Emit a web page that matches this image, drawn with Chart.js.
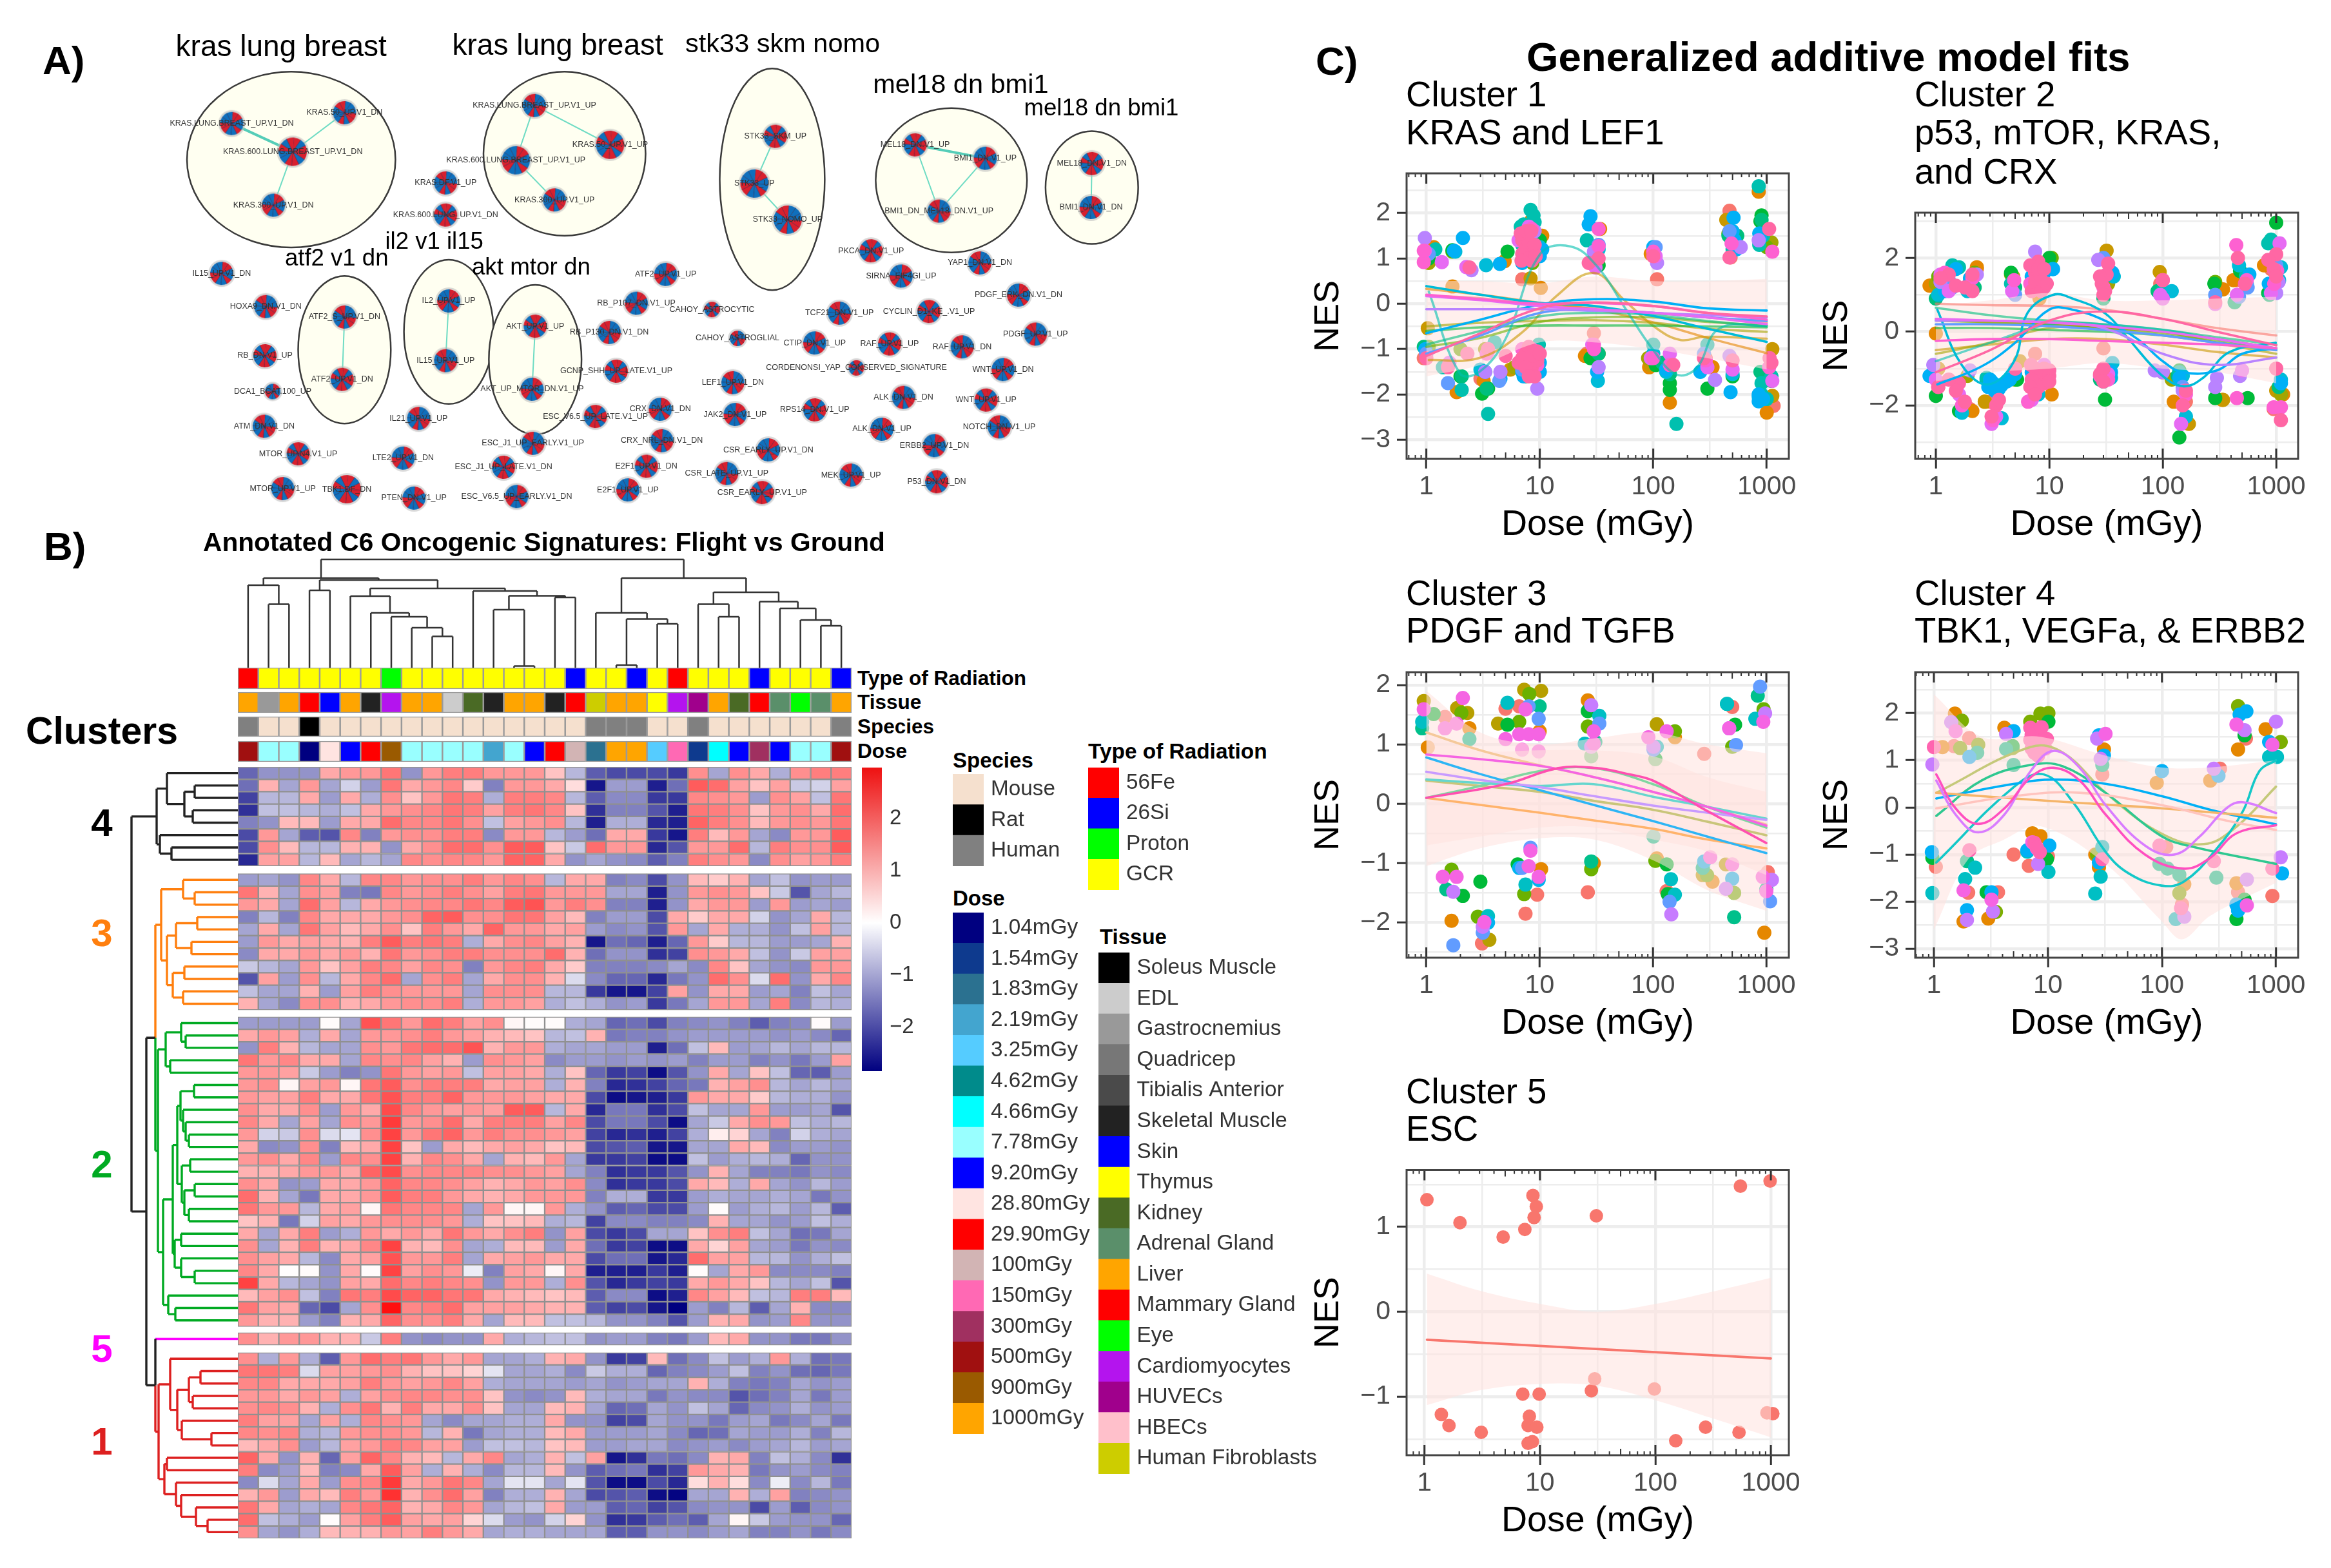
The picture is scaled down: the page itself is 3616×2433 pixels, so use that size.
<!DOCTYPE html>
<html><head><meta charset="utf-8">
<script src="https://cdn.jsdelivr.net/npm/chart.js@4"></script>
<style>
html,body{margin:0;padding:0;background:#fff;width:3616px;height:2433px;overflow:hidden;font-family:"Liberation Sans",Arial,sans-serif}
canvas{position:absolute}
.t{position:absolute;white-space:nowrap;transform:translateY(-50%);line-height:1}
</style></head><body>
<script>
/* ---------- Panel A: network ---------- */
const networkNodes=[
["KRAS.LUNG.BREAST_UP.V1_DN",291,355],["KRAS.50_UP.V1_DN",437,322],["KRAS.600.LUNG.BREAST_UP.V1_DN",370,441],["KRAS.300_UP.V1_DN",345,604],
["KRAS.LUNG.BREAST_UP.V1_UP",683,300],["KRAS.50_UP.V1_UP",781,420],["KRAS.600.LUNG.BREAST_UP.V1_UP",659,467],["KRAS.300_UP.V1_UP",709,588],
["STK33_SKM_UP",995,394],["STK33_UP",968,538],["STK33_NOMO_UP",1011,648],
["MEL18_DN.V1_UP",1176,420],["BMI1_DN.V1_UP",1267,461],["BMI1_DN_MEL18_DN.V1_UP",1207,622],["MEL18_DN.V1_DN",1405,477],["BMI1_DN.V1_DN",1404,611],
["ATF2_S_UP.V1_DN",437,945],["ATF2_UP.V1_DN",434,1135],["IL2_UP.V1_UP",572,896],["IL15_UP.V1_UP",568,1078],["AKT_UP.V1_UP",684,973],["AKT_UP_MTOR_DN.V1_UP",680,1165],
["KRAS.DF.V1_UP",568,536],["KRAS.600.LUNG_UP.V1_DN",568,634],["IL15_UP.V1_DN",278,812],["HOXA9_DN.V1_DN",335,913],["RB_DN.V1_UP",334,1063],["DCA1_BCAT.100_UP",344,1172],
["ATM_DN.V1_DN",333,1278],["MTOR_UP.N4.V1_UP",377,1362],["LTE2_UP.V1_DN",513,1375],["MTOR_UP.V1_UP",357,1468],["TBK1.DF_DN",440,1470],["PTEN_DN.V1_UP",527,1497],
["IL21_UP.V1_UP",533,1254],["ESC_J1_UP_LATE.V1_DN",643,1403],["ESC_V6.5_UP_EARLY.V1_DN",660,1492],["ESC_J1_UP_EARLY.V1_UP",681,1330],["ESC_V6.5_UP_LATE.V1_UP",762,1248],
["CRX_DN.V1_DN",846,1226],["CRX_NRL_DN.V1_DN",848,1322],["E2F1_UP.V1_DN",828,1400],["E2F1_UP.V1_UP",804,1472],["CSR_LATE_UP.V1_UP",932,1422],["CSR_EARLY_UP.V1_UP",978,1480],["CSR_EARLY_UP.V1_DN",986,1350],
["MEK_UP.V1_UP",1093,1427],["P53_DN.V1_DN",1204,1447],["ERBB2_UP.V1_DN",1201,1337],["NOTCH_DN.V1_UP",1285,1280],["WNT_UP.V1_UP",1268,1198],["ALK_DN.V1_UP",1133,1287],["ALK_DN.V1_DN",1161,1190],
["RPS14_DN.V1_UP",1046,1228],["JAK2_DN.V1_UP",943,1242],["LEF1_UP.V1_DN",940,1145],["CORDENONSI_YAP_CONSERVED_SIGNATURE",1100,1100],["WNT_UP.V1_DN",1290,1105],["RAF_UP.V1_DN",1237,1036],["RAF_UP.V1_UP",1143,1027],
["CTIP_DN.V1_UP",1046,1024],["CAHOY_ASTROGLIAL",946,1010],["CAHOY_ASTROCYTIC",913,922],["RB_P107_DN.V1_UP",815,903],["RB_P130_DN.V1_DN",780,992],["GCNP_SHH_UP_LATE.V1_UP",789,1110],["ATF2_UP.V1_UP",853,815],
["TCF21_DN.V1_UP",1078,933],["CYCLIN_D1_KE_.V1_UP",1194,928],["PDGF_ERK_DN.V1_DN",1310,878],["PDGF_UP.V1_UP",1332,997],["PKCA_DN.V1_UP",1119,743],["SIRNA_EIF4GI_UP",1158,820],["YAP1_DN.V1_DN",1260,780]
];
const thinEdges=[[1,2],[2,3],[4,6],[4,5],[6,7],[8,9],[9,10],[11,13],[12,13],[14,15],[16,17],[18,19],[20,21]];
const thickEdges=[[0,2],[11,12]];
const smallNodes=[27,56,61,62];
const largeNodes=[2,5,6,9,10,32];
const hullCenters=[[368,465],[722,447],[991,525],[1223,528],[1405,550],[437,1045],[572,990],[684,1075]];
const hullRadii=[[135,268],[105,250],[68,338],[98,220],[60,172],[60,225],[58,220],[60,228]];
const hullTitles=["kras lung breast","kras lung breast","stk33 skm nomo","mel18 dn bmi1","mel18 dn bmi1","atf2 v1 dn","il2 v1 il15","akt mtor dn"];
const hullTitleX=[360,714,1002,1230,1410,431,556,680];
const hullTitleY=[135,132,128,248,320,765,716,792];
const hullTitleSize=[46,46,41.5,41.5,36.6,36.6,36.6,36.8];

/* ---------- Panel B: heatmap ---------- */
const clusterSizes=[8,11,25,1,15];
const clusterGaps=[.62,.56,.5,.6,0];
const clusterColors=['#222222','#FF7F0E','#00AA22','#FF00FF','#DD2020'];
const heatC4=[
[-1.7,-1.2,-1.2,-1.2,1,1.2,1.2,1.6,-1.2,1.2,1.5,1.5,1.2,1.2,1.2,.7,-.8,-1.8,-2,-2,-2,-2.2,1.3,-1,1.3,1,-.9,1.3,1.5,1.5],
[-1.6,.9,-1,1.2,-1,-.5,-1.1,1.6,1,1.2,1.4,.6,-1.4,1.2,1.2,1,.4,-2.6,-1.1,-1.1,-2.5,-1.6,1.9,1.7,1.1,.7,1.1,-.6,-.5,1.1],
[-2.1,-.8,-.8,1,-1.1,1,-.9,1.3,.7,1.2,1.6,1.5,-.9,1.5,1.5,1.4,-.8,-1.8,-1.3,-1.3,-2.2,-2.2,1.4,1.3,1.2,-1.1,1.3,1.1,-.7,1.6],
[-2.3,-.7,-.7,-.8,-.9,-.7,1,1.2,1.3,1.4,1.6,1.5,1.1,1.5,1.6,1.4,.7,-2.3,-1.4,-1.4,-1.9,-2.5,1.6,1.5,1.3,.7,1.2,1.3,1,1.7],
[-1.4,-1.2,.8,.8,-1.1,1,1,1.7,1.4,1.4,1.6,1.3,-.7,1.1,1.2,1.3,-.8,-2.5,-.9,-.9,-2.4,-2.5,1.8,1.5,1.3,.8,1.2,1.3,1.2,1.6],
[-2,1.2,-1,-1.8,-1.9,1.4,-1.4,1.2,1.3,1.3,1.5,1.5,-1.3,1.2,1.2,-.8,-1.1,-1.6,1,1,-2.2,-2.6,1.5,.8,1.2,-1,-1.3,1.2,1.2,1.9],
[-2,1.3,.8,-.8,-.8,.9,.9,-1.2,1,1.3,1.7,1.7,1.3,1.9,1.9,.7,-.6,1.7,1.2,1.2,-2.4,-1.9,1.2,1.2,1.7,-.8,1.5,1.3,1.3,1.9],
[-2.4,1.1,1.1,-.8,.8,-1,-.8,-1,1.4,1.3,1.4,1.4,1.2,1.8,1.8,1,-1.2,-1,-1.2,-1.3,-1.8,-1.4,1.5,1.3,1.2,-1.3,1.3,1.1,1.2,1.5]];
const heatC3=[
[-1.1,-1,-1.2,1.4,1,-.8,1.4,1.4,1.2,1.3,1.3,1.5,1.2,1.4,1.3,-.8,1,1,-1.4,-1.3,-2,-1.2,.8,.6,.9,-1,-.7,-1.2,-1.1,-1.1],
[1.6,.9,-1,1.3,1.1,-1.4,-1.5,1.4,1.2,1.3,1.5,1.3,1.1,1.5,1.6,1.2,1.2,1.2,-1,-1,-2.5,-1.2,1.2,1.3,1.2,.7,-.6,-1.9,-1,-.8],
[1.2,1,-1,1.7,1.1,-.8,1,1.2,1.3,1.4,1.4,1.6,1.4,1.9,2,1.2,1.5,1.3,-1.4,-1.4,-2.5,-1.2,1,1.2,1.2,-1.1,1.2,-1.1,-1,-1.1],
[-1.4,-.8,-1.4,1.4,1,1,1,1.2,1.3,1.8,1.9,1.3,1.3,1.6,1.6,1.1,.8,-1.4,-1.1,-1.1,-2,1,.6,1,1,-.5,-1.2,-1,1,-.8],
[-1,1,-1,1.6,1.1,.8,1,1.3,.7,1.5,1.2,1,1.8,1.2,1.2,1,1.1,-1.1,-1.3,-1.2,-1.9,1.2,-1,1,-.9,-.9,-1.2,-.7,1.1,-.8],
[-1.1,1.2,1,1.1,1,.9,1.5,1.9,1.5,1.6,1.5,-.9,1,1.3,1.4,1.1,.9,-2.6,-1.6,-1.7,-2.5,-1.7,1.2,.6,-.8,-.8,-1.1,-1.1,-1,.9],
[-1.3,1,1,1.2,1,1.2,.9,1.6,1.2,1.3,1.5,1.5,1.3,1.3,1.3,1.7,.9,-1.6,-1.2,-1.2,-2.3,-2.1,1.3,1.2,1,-.7,-1.2,-.6,1.1,1.1],
[-.6,-.8,-1,1.2,.7,1.1,1.5,1.4,1.1,1.4,1.3,-1.4,1.2,1.4,1.5,1,.6,-1.4,-1.4,-1.4,-1.3,-1,-1.3,1.4,.7,-1,-1.2,-1.3,1.2,1.2],
[-1.9,1.1,-1.1,1.3,-.8,1,1.4,1.7,-1,1.3,1.5,-1,1,1.3,1.3,.9,-.4,-1.3,-1.7,-1.7,-2.4,-1.5,-1.2,1.7,1.3,-.4,1.7,-1.2,1,1.4],
[-.7,-1,-1,.9,-1.1,1.1,1.5,1.3,1.2,1.2,1.2,-1,1.3,1.3,1.3,-.8,-.8,-2.2,-2.6,-2.6,-2.1,1.1,-1.2,1,1,-1.1,-1,-1.4,-.7,-1],
[.9,-1,-1.3,1.3,1.3,.9,1,1.2,1.3,1.3,1.5,-.9,1.2,1.2,1.1,-.9,-.7,-.9,-1.2,-1.1,-2.2,-1.5,-1,1.2,1.2,-1,1.5,-1.3,-.8,-.9]];
const heatC2=[
[-1.1,-1.1,-1.1,-1.1,.05,-1,2,1.6,1.2,1.7,1.5,1.1,1.3,.1,.05,.05,-.9,-1,-1.7,-1.6,-2,-1.4,-1.3,-1.2,-1.4,-1.8,-1.4,-1.3,.05,-1.1],
[1,1.2,1.1,-.9,1,-1,1.2,1.2,1.3,1.5,1.2,1.1,.9,.8,.7,-.8,-.7,.9,-1.5,-1.4,-1.4,-1.2,-1.1,-1.1,-1.1,-1.1,-1.2,-1.1,-1.3,-1.7],
[-1.2,1.5,.9,-.8,-1,-1,1.3,1.2,1.6,1.7,1.7,2,.9,1.2,1.2,-.9,-1,-1,-1.1,-1.1,-2.5,-1.6,-.7,.8,-1.1,-1,-.8,-1,-.8,-.8],
[1.6,1.2,1.4,1,1,-1,1.4,1.3,1.4,1.1,.9,-1.1,1.3,1.2,1.1,-1.3,-1.1,-1.1,-1.2,-1.1,-1.2,-1.1,-1.4,-1.1,-1.1,-1.4,-1.2,-1.5,-1.1,1.1],
[1.2,1.2,1.1,-.6,-1.1,-1.4,-1.2,1.6,1.2,1.1,1.2,-.7,1.1,1.1,1,-.9,.7,-1.7,-2.2,-2.1,-2.7,-1.9,-1.2,1,-1,.7,-.7,-1.7,-1.8,-1.1],
[1.2,1.3,.1,1.1,1.2,.1,1.6,1.9,1.3,1.5,1.5,1.5,1,1.1,1.1,-.9,.9,-1.4,-2.4,-2.3,-2.1,-1.7,-1.5,.9,1.1,1.3,-.8,-1,-.8,-1],
[1.2,1.1,1.1,1.5,1,1,1.6,2,1.5,1.5,1.8,1.2,1.2,1.2,1.1,1,1,-2,-2.7,-2.6,-2.5,-2.2,1.2,1,1,.6,-.8,-.9,-.9,-1.2],
[1.3,1,1,1.3,-1.1,1.2,1,2.1,1.4,1.2,1.1,1.2,1.1,1.9,1.9,-.8,1,-2.4,-1.5,-1.5,-2.3,-2,-.7,-1,-1,1.2,-1.1,-1.1,-1,-1.9],
[1.4,1,-1,1.1,-1,1.3,1.2,2.3,1.2,1.3,1.7,1,1.5,1.5,1.5,1.1,1.4,-2,-1.5,-1.5,-2,-2.7,-1,-.6,1,1.3,1.2,-.7,-.9,-.8],
[1.2,-.5,-.6,1.3,-.4,-.3,1.3,2.2,1.2,1.6,1.8,1.2,1.5,1.3,1.3,1.2,1.1,-2.1,-2.4,-2.3,-2.5,-2.1,-.9,.2,.5,-1,-1.4,-.5,-.9,-1],
[1,-1.3,-1.2,1.3,-1.4,.8,1,2.2,.7,-1.1,1,.8,1,1.1,1,.7,.8,-2,-1.9,-1.8,-2.6,-2.6,-1,-1,1,.8,-1.3,-1.1,-1.1,-1.2],
[1.2,1.3,1,1.4,-1.1,1.4,1.3,2.2,.9,1.4,1.3,1,-1,.9,.8,1.2,-1,-2.2,-2.2,-2.1,-2.7,-2.7,-.7,-1.1,-.9,-.8,-.9,-1.7,-1.2,-1.2],
[.9,.9,1,1.2,1.2,1,1.8,2.1,1.3,1.4,1.4,1.4,1.3,1.3,1.2,1.1,-1,-1.4,-2.3,-2.2,-2.2,-1.9,-1.2,.9,-1,-1.4,-1.4,-1.5,-1.2,-1.3],
[1.3,1,-1.2,-1.1,1,1,1.2,1.8,1.4,1.4,1.3,1.1,.9,1,1.2,1.1,1.3,-1.3,-2.3,-2.2,-2.2,-2,1,.8,-.9,1,-1,-1.2,-.8,-1.1],
[1.7,.9,-1,-1.5,1,1,1.2,1.9,1.5,1.5,1.2,1,.9,1,1.2,1.2,1.2,-1.4,-.9,-.9,-2.2,-2.2,-1.1,-.9,-1,-1,-.9,-1,-1.5,-1.2],
[1.6,1.2,1.2,-.8,1,1.1,.1,1.6,1.4,1.4,1.4,-1,1.2,.1,.1,1.2,-.9,-1.2,-1.8,-1.7,-2,-2,-1.1,.05,-1.1,-.9,-.8,-1.1,-.8,-1.8],
[.7,.9,-1.5,-.5,1.1,1,1.2,1.3,1.3,1.3,1.2,-.9,.7,.7,.8,-.9,-.8,-2.1,-1.3,-1.3,-1.4,-1.4,-1.3,.9,-1,-1,-1.2,-1.1,-.7,-.9],
[1,-1,1,1.5,-1.1,-.9,1.2,1,1.2,1,1.6,1.2,1,1.3,1.5,-1.2,1.1,-2,-2.2,-2,-1,-1,.7,1.3,1.5,-.7,-1,-1.6,-1.5,-1],
[1.3,-1,.9,1.5,.9,1,1.4,2.2,.9,.8,1.3,-1,-.9,.8,.8,-1.1,1,-1.6,-2.2,-2.1,-2.7,-2.7,1,.5,1.1,-1,-1.1,-1.5,-1.2,-1.3],
[1.3,1.1,1,-.8,-1.3,1,1.1,2,1.2,1.2,1.5,-1,1,1.1,1.2,1,1,-2,-1.6,-1.6,-2.6,-2.4,1.7,1.1,1.1,-.8,-.8,-1.2,-.9,-.7],
[1.4,1,.02,.05,-1.2,1,.05,2.2,1.1,1.3,1.2,-.2,-1.4,1.1,1,.1,1,-2.5,-2.5,-2.5,-2.2,-2.5,.05,-1,1,1.2,-1.3,-1.3,-1.3,-1.4],
[2.2,1,-.8,-1,-1.2,1.1,1,1.7,1.4,1.5,1.4,1.3,-1.2,1.2,1.2,-.9,1.3,-1.9,-2.4,-2.2,-2.1,-2.2,1,1.2,1,.7,-.8,-1,-.7,-1.9],
[.8,1.1,1.3,-.7,-1.4,1.6,1.5,2.1,1.8,1.8,1.6,1.6,1,.9,.8,.7,.8,-1.8,-1.3,-1.3,-2.7,-2.5,1.4,1.1,.8,-.7,-.8,1.5,1.5,.8],
[1.6,1.1,1,-1.7,-2,-1,1.3,2.8,1.4,1.5,1.7,1.1,1.1,1.1,1,.9,.9,-1.8,-2.1,-2,-2.6,-2.9,-1.1,-1.4,-.8,-1.8,-1,.9,-1.3,-1.3],
[1.2,.9,.9,-1.1,-1.4,.9,1,1.8,1.3,1.3,1.5,1,-1,.8,.8,-.7,-.7,-.8,-1.2,-1.2,-1.4,-1.9,-1.1,.9,1,-1.2,-1.1,1.4,-1.2,-1.2]];
const heatC5=[
[1.3,.9,1.2,1.2,.9,.9,-.6,1.5,-1.2,-1.3,-1.2,-1.2,1,-.9,-.8,-.7,-.7,-1.2,-1.1,-1.1,-1.4,-1.5,-1.1,.8,1,-1.2,-1.2,-1.5,-1.5,-1.2]];
const heatC1=[
[1.3,-.9,1.2,-.9,-1.8,1.2,1.7,1.5,1.6,1.2,1,1.2,-1,-1,-.9,.9,1,-1.2,-2.2,-2.1,.8,-1.6,-1.3,-.7,-1.1,-.9,1.2,-.9,-1.6,-1.5],
[1.6,1.6,1.5,-.4,1.1,1.1,1.2,1.3,.9,.7,.7,.5,-.3,-1,-1,-.9,-1.3,-.6,-.9,-.9,-1.7,-1.4,-1.3,-1.1,-.7,-1.4,-1.2,-1.6,-1.7,-1.5],
[1.4,1.4,1,1,1,1.1,1.5,1.2,1.1,1.2,1.4,1.1,-.9,-1,-1,-1,-1.1,-1,-1.2,-1.1,-1,-1,.9,-.9,-1.4,-1.5,-1.4,-1,-1.2,-1.1],
[1.2,1.2,1,1.2,1.1,-.9,1.1,1.3,1.4,1.4,1.3,1.3,.7,-1.2,-1.3,-1.2,.8,-.9,-1,-1,-1.5,-1.2,-1.3,-1.3,-1.9,-1.6,-1.4,-1,-1.5,-1.1],
[1.3,1.4,1.3,.9,-.9,1.3,1.6,.9,1.5,1,1,1.3,.7,-1,-1,.8,.9,-1,-1.7,-1.6,-1,-1.2,-.7,-1,-1.7,-1.3,-1.2,-.9,-1.2,-1.1],
[1.5,1.1,1.1,-1,1.1,-.9,1.4,1.3,1.2,-1,-1.3,-1,-1,-.9,-.9,1,-1.2,-1.2,-2.1,-2,-1,-1.2,-1.2,-1.5,-1.1,-1,-1.5,-1.3,-1,-1.5],
[1.4,1.3,1.4,-.9,-.8,1.2,1.3,1.3,1.2,-.8,.9,-1.5,-1,-.9,-.9,.8,1,-1.1,-1.1,-1.1,-1,-1.3,-1.7,-1.6,-1,-1.1,-1.1,-.9,-1.4,-.8],
[.8,1,1.3,-1.1,-.8,1.1,1.2,1.5,1.4,1.1,1.1,-1.1,-.7,-.7,-.8,.7,.8,-1.1,-1.1,-1,-1,-1.3,-1.2,-1.1,-1.3,-1.1,-1,-.8,-1.1,-1],
[1.8,1,-1.2,.9,-1.7,1.1,1.8,1.4,.9,.8,-.8,1,1.4,-1,-.9,.9,-.7,1.1,-2.6,-2.3,-1.5,-1.6,-1.3,.9,1,-1.4,-.7,-.9,-1.3,-2.3],
[1.5,-1.3,-1.1,.8,-1.4,-1.3,1,1.9,1.1,-.9,.9,-.9,-1.3,-.8,-.8,.8,-1.2,-1.8,-1.6,-1.5,-2.3,-2.1,1.2,1,.9,-1.5,-1.2,-1.1,-1.3,-1.4],
[-1.3,-.4,-1,1,-1.1,1.3,1.4,2.3,1,1.2,1.6,1.4,-1,-.3,-.3,-1,-.3,-1.9,-2.7,-2.7,-2,-2.4,.4,.9,.4,-1.3,-.2,-1.3,-.8,-1.5],
[.9,1.2,-1.1,1,.8,1.5,1.2,2.4,.9,1.3,1.7,1.1,-1.4,-.9,-.9,.9,-1,-2,-1.9,-1.8,-2.7,-2.8,-1,-1,.9,-.9,1.1,-1.4,-1.3,-1.2],
[1.6,1,-1,-.9,-1,1.4,1.6,1.8,.9,1,1.4,1.2,-1,-.8,-.7,1,-1.1,-1.1,-1.8,-1.7,-2.1,-1.9,-1.3,-1.2,-1.2,-2,-1.1,-1.8,-1.3,-1.2],
[1.7,-.7,-.9,-1.1,.03,1.1,1.5,1.9,1.1,1,1.1,.5,-.4,-1.1,-1.2,-.5,.5,-1.2,-2.3,-2.2,-1.8,-1.6,-1.8,-1,.1,-.6,-1.1,-1.2,-1.2,-1.7],
[1.3,-1,-1.2,-.9,.8,.9,.9,1.2,1.1,1.5,1.2,1,-1,-.9,-.9,-1,-1,-1,-1.8,-1.8,-1.2,-1.2,-1.3,-1.1,-1,-1.4,-1.4,-1.2,-1.5,-1.3]];
const colorbarRange=[-2.84,2.97];
const colorbarTicks=[-2,-1,0,1,2];

const speciesNames=["Mouse","Rat","Human"];
const speciesColors=["#F5E0CE","#000000","#808080"];
const radiationNames=["56Fe","26Si","Proton","GCR"];
const radiationColors=["#FF0000","#0000FF","#00FF00","#FFFF00"];
const doseNames=["1.04mGy","1.54mGy","1.83mGy","2.19mGy","3.25mGy","4.62mGy","4.66mGy","7.78mGy","9.20mGy","28.80mGy","29.90mGy","100mGy","150mGy","300mGy","500mGy","900mGy","1000mGy"];
const doseColors=["#000080","#0E3A8E","#2B7190","#43A5CF","#55CCFF","#008B8B","#00FFFF","#99FFFF","#0000FF","#FFE4E1","#FF0000","#D2B4B4","#FF69B4","#A03060","#A01010","#9A5A00","#FFA500"];
const tissueNames=["Soleus Muscle","EDL","Gastrocnemius","Quadricep","Tibialis Anterior","Skeletal Muscle","Skin","Thymus","Kidney","Adrenal Gland","Liver","Mammary Gland","Eye","Cardiomyocytes","HUVECs","HBECs","Human Fibroblasts"];
const tissueColors=["#000000","#CCCCCC","#999999","#777777","#4A4A4A","#222222","#0000FF","#FFFF00","#4A6A25","#5A8F6A","#FFA500","#FF0000","#00FF00","#B414EE","#A0008C","#FFC0CB","#CDCD00"];

const sampleRadiation=["56Fe","GCR","GCR","GCR","GCR","GCR","GCR","Proton","GCR","GCR","GCR","GCR","GCR","GCR","GCR","GCR","26Si","GCR","GCR","26Si","GCR","56Fe","GCR","GCR","GCR","26Si","GCR","GCR","GCR","26Si"];
const sampleTissue=["Liver","Gastrocnemius","Liver","Mammary Gland","Skin","Liver","Skeletal Muscle","Cardiomyocytes","Liver","Liver","EDL","Kidney","Skeletal Muscle","Liver","Liver","Skeletal Muscle","Mammary Gland","Human Fibroblasts","Liver","Liver","Thymus","Cardiomyocytes","HUVECs","Liver","Kidney","Mammary Gland","Adrenal Gland","Eye","Adrenal Gland","Liver"];
const sampleSpecies=["Human","Mouse","Mouse","Rat","Mouse","Mouse","Mouse","Mouse","Mouse","Mouse","Mouse","Mouse","Mouse","Mouse","Mouse","Mouse","Mouse","Human","Human","Human","Mouse","Mouse","Human","Mouse","Mouse","Mouse","Mouse","Mouse","Mouse","Human"];
const sampleDose=["500mGy","7.78mGy","7.78mGy","1.04mGy","28.80mGy","9.20mGy","29.90mGy","900mGy","7.78mGy","7.78mGy","7.78mGy","7.78mGy","2.19mGy","7.78mGy","9.20mGy","29.90mGy","100mGy","1.83mGy","1000mGy","1000mGy","3.25mGy","150mGy","1.54mGy","4.66mGy","9.20mGy","300mGy","9.20mGy","7.78mGy","7.78mGy","500mGy"];

const colMerges=[[1,2,98.5],[0,-1,128],[3,4,120],[9,10,48.5],[8,-4,62],[7,-5,79],[6,-6,85],[5,-7,111],[13,14,2.5],[12,-9,90],[15,16,109],[-10,-11,111.5],[11,-12,119],[-8,-13,123],[-3,-14,136],[-2,-15,139],[18,19,4],[20,21,68],[-17,-18,75.5],[17,-19,85],[23,24,79],[22,-21,98.5],[28,29,65],[27,-23,74],[26,-24,92],[25,-25,102.5],[-22,-26,117],[-20,-27,139],[-16,-28,168]];
const rowMerges=[[1,2,67],[3,4,70],[-1,-2,83],[0,-3,110],[6,7,103],[5,-5,121],[-4,-6,126],
[9,10,67],[8,-8,85],[11,12,63],[13,14,72],[-10,-11,96],[15,16,83],[17,18,85],[-13,-14,101],[-12,-15,110],[-9,-16,119],
[20,21,81],[19,-18,88],[22,23,105],[-19,-20,112],[24,25,68],[28,29,76],[27,-23,81],[26,-24,85],[-22,-25,89],[30,31,74],[32,33,67],[34,35,76],[-28,-29,83],[-27,-30,87],[-26,-31,94],[36,37,88],[39,40,67],[38,-34,88],[-33,-35,98],[-32,-36,101],[42,43,97],[41,-38,108],[-37,-39,116],[-21,-40,124],[-17,-41,128],
[46,47,58],[48,49,70],[-43,-44,76],[51,52,41],[50,-46,87],[-45,-47,94],[45,-48,105],[53,54,110],[58,59,47],[57,-51,65],[56,-52,88],[55,-53,96],[-50,-54,114],[-49,-55,123],[44,-56,128],[-42,-57,142],[-7,-58,165]];

/* ---------- Panel C: GAM fits ---------- */
const hue15=['#F8766D','#E58700','#C99800','#A3A500','#6BB100','#00BA38','#00BF7D','#00C0AF','#00BCD8','#00B0F6','#619CFF','#B983FF','#E76BF3','#FD61D1','#FF67A4'];
const hue12=['#F8766D','#E58700','#B79F00','#6BB100','#00BA38','#00C08B','#00BFC4','#00B4F0','#619CFF','#C77CFF','#F564E3','#FF64B0'];
const hue10=['#F8766D','#E58700','#7CAE00','#00BA38','#00C08B','#00BFC4','#00B0F6','#C77CFF','#F564E3','#FF64B0'];
const logTickValues=[.7,.8,.9,1,2,3,4,5,6,7,8,9,10,20,30,40,50,60,70,80,90,100,200,300,400,500,600,700,800,900,1000];
const lineDoses=[1,3,10,30,100,300,1000];

const c1Salmon=[[7,.54],[.95,-1.2],[108,.54],[470,2.05],[480,1.02],[1150,-2.25],[8.2,-1.3],[30,-.65],[3,-1.65],[290,-1.2],[26,-1.1]];
const c1Orange=[[1.16,1.25],[1.7,.38],[8.5,1.85],[10.2,.35],[10.5,1.5],[4.9,.94],[34,1.65],[140,-2.18],[1000,-2.4],[850,2.47],[33,-1.1],[25,-1.15],[3.2,-1.7],[1.85,-1.95],[92,-1.4],[333,-1.4],[95,1.1]];
const c1Olive=[[1.03,-.54],[1120,-1],[1120,-2.03],[5.5,-1.45],[440,1.85],[8.3,.56],[95,-1.35]];
const c1Yellow=[[1.05,.9],[3.3,-1],[6,-1.4],[1100,1.35],[90,-1.2],[9.5,1.1]];
const c1Lime=[[460,1.55],[1000,1.25],[8.6,.9],[1.7,1.15],[2,-1],[1.05,-.95]];
const c1Green=[[5.2,1.15],[1.05,1],[1.7,1.18],[900,1.95],[880,1.82],[140,-1.75],[140,-1.9],[3.1,-1.98],[3.5,-1.87],[2,-1.6],[10,1.4],[7.5,-1.6],[1100,-1.7],[33,.85],[300,-1.87],[28,-1.2],[500,-1.6],[105,-1.35]];
const c1Spring=[[.95,-.95],[2.05,-1.6],[3.4,-1.87],[140,-1.55],[8.5,1.5],[880,-1.5],[900,1.85],[550,1.5],[460,1.5],[8,-1.3],[33,-1.1],[120,-1.3]];
const c1Teal=[[8.3,2.07],[7.2,1.75],[3.5,-2.43],[160,-2.65],[850,2.59],[2.05,-1.9],[1.4,-1.4],[26,1.4],[500,1.2],[4,-.85],[100,-.9],[300,-.9],[900,-2],[1.2,1.2],[860,1.3],[6.8,1.7],[9,1.8],[7,1.3],[9.8,-.9],[8,-1.45],[8.8,1.95],[1000,-2.1],[900,-1.75],[930,1.5],[1100,-1.6]];
const c1Cyan=[[3.36,.85],[32.5,-1.7],[1.8,1.15],[7.2,1],[8.5,-1.5],[33,1.2],[130,-1.5],[500,-1.55],[850,-2.05],[100,-1.1],[3,-1.45],[10,1.25]];
const c1Azure=[[2.1,1.45],[1.75,1.17],[4.45,.88],[28,1.93],[27,1.75],[510,1.9],[500,1.6],[520,1.4],[850,-2.15],[480,-1.95],[32,-1.5],[7.2,-1.6],[8.4,1.2],[9,-1.1],[860,1.55],[100,1.25],[260,-1.5],[7,1.45],[.98,-1],[130,-1.45],[3.3,-1.5],[4.5,-1.65],[7,.9],[10,1.05],[10.5,1.2],[7,-1.5],[10,-1.3],[10,-1.5],[850,-2],[930,-2.1],[870,1.45],[540,1.2]];
const c1Corn=[[1.55,-1.75],[4.4,-1.7],[470,1.6],[105,1.25],[1.05,1.1],[7,-1.45],[9,1.3],[1,-1.1],[280,-1.1],[33,1.3]];
const c1Purple=[[.97,1.45],[2.5,.74],[9.5,-1.87],[33,-1.4],[108,.9],[3.3,-1.5],[4.5,-1.5],[850,1.4],[590,1.25],[350,-1.68],[470,-1.15],[7.5,1],[30,1.15],[9,1.6]];
const c1Violet=[[1.37,.92],[.97,1.17],[2.25,.81],[8,1.7],[105,1.05],[29,-.9],[140,-1.1],[300,-1.4],[1120,-1.7],[500,-1.45],[8.5,-1],[6.5,1.4],[3.5,-1.05],[1.6,-1.3],[95,-1.2],[31,.8]];
const c1Magenta=[[.95,.92],[.95,1.17],[490,1.33],[1120,1.15],[8.5,1.65],[33,1.65],[33,1.27],[8,1.2],[9,1.1],[8.5,-1.55],[9.5,-1.35],[7,-1],[100,1.15],[140,-1.35],[1050,-1.4],[30,-.9],[30,-1],[100,-1.2],[290,-1.25],[3.4,-1.1]];
const c1Pink=[[7,1.4],[7.5,1.2],[8,1.35],[7,1.1],[8,1],[8.5,.95],[9,1.3],[470,1.02],[1,-1.2],[2.4,.8],[1050,1.65],[27,.9],[33,1],[8,-1.25],[8.5,-1.4],[9.5,-1.25],[7.5,-1.1],[6.5,-1.3],[100,1.05],[150,-1.35],[1100,-1.3],[1060,-1.2],[280,-1.2],[500,-1.25],[1.55,-1.4],[2.3,-1.1],[3.5,-1],[5,-1.15],[6.8,1.55],[7.6,1.6],[8.4,1.6],[9.2,1.05],[6.9,.95],[8,-.95],[7,-1.2],[8.5,-1.15],[9.5,-1.05],[10,-1.1],[7.5,-1.4],[9,-1.6],[8,-1.6]];
const c1Points=[c1Salmon,c1Orange,c1Olive,c1Yellow,c1Lime,c1Green,c1Spring,c1Teal,c1Cyan,c1Azure,c1Corn,c1Purple,c1Violet,c1Magenta,c1Pink];
const c1Fits=[[.18,.12,-.02,-.1,-.2,-.3,-.42],[.33,.2,.02,-.12,-.41,-.75,-1.09],[[1.05,-1.24],[2.9,-1.2],[7,-.63],[14,.17],[30,.68],[55,.09],[108,-.55],[175,-.8],[280,-.73],[1000,-.77]],[-.5,-.42,-.38,-.36,-.42,-.55,-.62],[-.95,-.75,-.4,-.3,-.3,-.4,-.48],[-.6,-.52,-.48,-.48,-.48,-.5,-.52],[-.9,-.6,-.28,-.2,-.25,-.38,-.5],[[1.05,.27],[1.97,-1.53],[2.94,-1.5],[5,-.77],[10.1,1.1],[19,1.26],[32.4,.81],[55,-.05],[100,-1.02],[160,-1.56],[240,-1.42],[380,-.55],[1000,-.48]],[.39,.2,.02,-.05,-.27,-.55,-.84],[-.65,-.35,-.02,.1,.05,-.1,-.15],[-1.1,-.7,-.2,-.15,-.2,-.3,-.38],[-.12,-.12,-.12,-.15,-.2,-.25,-.3],[.17,.08,-.05,-.12,-.2,-.3,-.45],[.2,.1,0,.02,-.05,-.2,-.35],[-1.15,-.65,-.1,.03,-.05,-.2,-.28]];
const c1BandUpper=[.5,.5,.45,.6,.5,.5,.55];
const c1BandLower=[-1.6,-1.35,-.85,-.85,-1,-1.2,-1.45];

const c2Salmon=[[.9,1.25],[1.05,-1.5],[2,-2.1],[2.3,1.7],[8,1.3],[30,-.45],[95,1.3],[330,1.15],[450,1.4],[900,1.7],[950,-2.1],[160,-1.9],[3,-1.9],[7.5,-.6]];
const c2Orange=[[.88,1.25],[2.3,1.75],[1,-.05],[2.1,-2.15],[2.7,-1.9],[8.2,.9],[10.5,-1.7],[100,-1.1],[340,1.15],[125,-1.9],[335,-1.85],[420,1.4],[780,1.8],[1150,-1.7]];
const c2Olive=[[32,2.2],[94,1.62],[5.5,-.8],[1.05,-1],[2.7,-1.9],[340,-1.85],[7,1.2],[1000,-1.6],[170,-2.5]];
const c2Yellow=[[1,1.3],[4.8,1.5],[9.5,1.9],[120,-1.3],[1.9,-1.2],[33,1.3],[1100,-1.7]];
const c2Lime=[[1.05,1.5],[2.2,1.6],[4.6,1.55],[10.5,2],[30,1.5],[5,-1.3],[290,1.35]];
const c2Green=[[1,-1.74],[31,-1.84],[140,-2.87],[290,-1.8],[560,-1.8],[1000,2.96],[10,2],[285,1.3],[1.6,-2.15],[3.6,-1.5],[5.2,-1.3],[4.6,1.6],[31,1.5],[140,-1.05],[850,1.05],[480,1.65]];
const c2Spring=[[1.4,1.75],[2.2,1.2],[30,.9],[870,1],[430,.8],[1,.9],[5,1.2],[8,-1.1],[90,1.1],[135,-1.2],[1050,-1.5],[28,-1.3],[2.8,-1.3]];
const c2Teal=[[1.4,1.8],[1.6,1.75],[2,1.35],[850,2.4],[900,2.5],[8,1.5],[30,-1.35],[2.8,-1.25],[4.6,1.3],[100,1.1],[140,-1.1],[540,1.5]];
const c2Cyan=[[1.05,1],[1.9,1.1],[10.7,1.7],[37,1.5],[36,-.85],[150,-1.2],[160,-2.3],[3.8,-2.35],[1.7,-2.2],[35,-1.25],[8,-1.7],[1100,-1.3],[470,1.8],[1100,1.75],[1060,1.4],[120,1.1]];
const c2Azure=[[3.2,-1.4],[2.9,-1.5],[3.3,-1.6],[3.8,-1.45],[4.2,-1.35],[.88,-1.2],[35,-1.1],[9,1.6],[550,1.3],[580,1.55],[1.2,1.1],[140,-1.25],[7,-1.1],[2,1.45],[860,1.3],[3.6,-1.55],[3.1,-1.35],[4.5,-1.3],[5,-1.15],[3,-1.3],[3.4,-1.45],[7,1.5],[10.8,1.7],[1.5,1.7],[36,1.6],[1100,-1.4]];
const c2Corn=[[1.3,1.4],[1.4,1.2],[8,1.8],[290,1],[470,.95],[560,1.2],[30,2],[1000,1.8],[5,1],[150,-1.5],[7,-1.45]];
const c2Purple=[[7.5,2.17],[.95,-.9],[1.1,1.35],[2.3,1.55],[27,1.95],[100,-1.1],[85,-1.05],[2,-1.05],[1050,1.35],[300,-1.25],[290,-1.5],[150,-1.6],[480,-1.2],[9,-1.3],[1000,1.05]];
const c2Violet=[[1.1,1.55],[1.3,1.1],[4.7,1.1],[95,1],[100,.9],[145,-2.5],[1070,2.4],[900,1.05],[450,1],[3.1,-2.5],[3.4,-2.3],[1.6,-1.7],[7,-1.85],[9,-.9],[33,-1.15],[500,-1.05],[1,-1.3],[7.5,1.6],[290,.75]];
const c2Magenta=[[1.2,1.6],[2.1,1.45],[4.9,1.4],[445,2.35],[1020,1.65],[550,1.4],[950,-2.05],[1100,-2.05],[160,-1.7],[28,-1.2],[33,-1.3],[8,-1.5],[9,-1.2],[6.5,-1.9],[3.2,-2.4],[1.7,-2],[30,1.2],[960,1.3],[100,1.4],[450,-1.8],[6.8,1.3]];
const c2Pink=[[8,1.9],[7.5,1.6],[8.5,1.4],[9,1.2],[7,1.1],[33,1.85],[29,1.3],[31,1.1],[100,1.4],[530,1.3],[1000,2.1],[850,1.95],[460,2],[1100,-2.4],[1000,-1],[150,-2],[160,-1.6],[7.5,-1],[9,-1],[10,-1.05],[3.4,-2],[1.6,-1.4],[1.05,-1.5],[5,-1],[30,-1],[1.3,1.55],[2.1,1.1],[290,.8],[6.8,1.8],[8,1.7],[9,1.7],[7.5,1.35],[8.5,1.1],[9.5,1.3],[6.9,-.9],[8,-1.2],[9,-1.4],[10,-1.2],[7,-1.3],[8,-1.5],[10,-1.35],[6.8,-1.5],[7.5,-1.7],[1.5,-1.6],[1.8,-1.9],[1.3,-1.3],[1.1,1.45],[1.5,1.25],[1.8,1.2],[2.1,1.55],[32,1.55],[28,1.5],[30,1],[950,1.7],[1000,1.5],[3.1,-2.3],[3.6,-1.85],[28,-1.15],[30,-1.35]];
const c2Points=[c2Salmon,c2Orange,c2Olive,c2Yellow,c2Lime,c2Green,c2Spring,c2Teal,c2Cyan,c2Azure,c2Corn,c2Purple,c2Violet,c2Magenta,c2Pink];
const c2Fits=[[.76,.72,.7,.6,.35,.1,-.1],[.35,.25,.2,.1,0,-.2,-.45],[-.5,-.35,-.2,-.2,-.35,-.55,-.7],[-.6,-.3,.1,.1,0,-.3,-.6],[.3,.25,.2,.1,-.05,-.25,-.45],[.1,.1,.05,0,-.1,-.3,-.5],[.65,.45,.3,.2,.05,-.15,-.35],[-.8,-.3,.2,.2,.05,-.2,-.45],[[1.03,.6],[1.69,-.9],[2.87,-1.43],[4.9,-.8],[6.4,.5],[10.8,1],[16,.9],[31,.5],[50,-.2],[97,-1.17],[153,-1.48],[227,-1.25],[388,-.55],[990,-.3]],[[1.03,-1.43],[2.5,-.95],[5,-.3],[10,.6],[16,.6],[31,.3],[60,-.2],[100,-.8],[150,-1.1],[300,-1.05],[500,-.6],[1000,-.45]],[.2,.2,.15,.05,-.1,-.3,-.5],[.3,.3,.25,.1,-.6,-.9,-.7],[.35,.3,.25,.15,0,-.2,-.45],[-.25,-.2,-.2,-.25,-.3,-.35,-.45],[-1.1,-.5,.3,.55,.35,0,-.37]];
const c2BandUpper=[.7,.85,1.05,.85,.85,.9,.95];
const c2BandLower=[-1.35,-1.1,-1,-.85,-1,-1.1,-1.4];

const c3Salmon=[[5,1.6],[500,1.63],[283,.84],[26.6,-1.49],[9.5,-1.53],[7.5,-1.85],[3.1,-2.35],[1030,-1.15],[132,-1.47],[1.46,1.46],[6.6,1.64]];
const c3Orange=[[1.03,.95],[1.67,-1.97],[960,-2.17],[26.6,1.74],[156,1.12],[335,-1.31],[10.3,-1.1],[108,-.92],[30,-1],[2.4,1.27],[10,1.22]];
const c3Olive=[[.95,1.73],[7.3,1.92],[10.3,1.9],[1.87,1.61],[2.3,1.53],[4.3,1.35],[108,1.34],[3.6,-2.29],[275,-1.2],[440,-1.02]];
const c3Lime=[[1.67,-1.11],[2.04,1.53],[8.1,1.85],[7.3,-1.52],[28.5,-1.1],[105,-.96],[2.85,-1.9],[300,-1.2],[520,-1.5],[6.6,1.38],[156,1.22],[945,1.59],[500,.96],[26.6,1.3]];
const c3Spring=[[1.16,1.51],[5.2,1.33],[530,1.33],[132,-1.02],[28.5,.8],[105,.75],[6.4,-1.02],[2.1,-1.55],[3,-1.31],[26.6,1.56],[135,-1.52]];
const c3Teal=[[.92,1.27],[1.5,-1.44],[10,1.64],[450,1.68],[840,1.82],[101,-.55],[28.5,-.97],[520,-1.91],[275,-1.08],[2.4,1.09],[1000,-1.44],[31,1.04]];
const c3Azure=[[.92,1.38],[5.2,1.7],[33.6,1.48],[3.5,-1.89],[144,-1.27],[156,-1.53],[7.5,-1.36],[800,1.43],[450,1.68],[108,.96],[25,1.01]];
const c3Corn=[[6.6,-1.08],[500,-1.26],[283,-.97],[9.8,-1.28],[3.5,-2]];
const c3Purple=[[880,1.97],[540,.99],[1.73,-2.38],[8.3,-.74],[7,-1.08],[33.6,1.35],[8,1.64],[140,-1.65],[1080,-1.64],[3.15,-2.17],[101,.91],[9.8,1.43]];
const c3Violet=[[145,-1.86],[1.73,-1.48],[28.5,1.66],[1120,-1.28],[975,1.52],[440,-1.43],[101,.96],[3.15,-2.07],[28.5,.96],[470,1.27]];
const c3Pink=[[.95,1.59],[2.1,1.78],[7.5,1.59],[91,1.12],[132,1.22],[940,1.38],[1.4,-1.23],[1.85,-1.23],[8.3,-.79],[8,-1.05],[9.8,-1.23],[3.25,-1.99],[30,1.22],[8,1.17],[6.6,1.17],[9.8,1.17],[470,1.27],[1000,-1.47],[30,1.01],[5,1.09],[9.8,.88],[7,.91],[320,-.9],[500,-1.02],[930,-1.23],[1.46,1.27],[1.85,1.35]];
const c3Points=[c3Salmon,c3Orange,c3Olive,c3Lime,c3Spring,c3Teal,c3Azure,c3Corn,c3Purple,c3Violet,c3Pink];
const c3Fits=[[.1,-.02,-.15,-.28,-.42,-.6,-.75],[.39,.3,.2,.05,-.1,-.3,-.53],[1.2,.9,.65,.45,.2,-.05,-.35],[.1,.3,.55,.6,.33,-.05,-.4],[.41,.35,.3,.33,.12,-.05,-.25],[.78,.5,.23,-.02,-.29,-.55,-.83],[.54,.4,.28,.13,-.03,-.15,-.27],[.83,.75,.64,.45,.2,-.05,-.37],[[1,.1],[5,.33],[14.6,.6],[32,.6],[60,.5],[100,.39],[275,-.08],[1000,-.66]]];
const c3FitColors=['#FFB36B','#C9C57A','#F5C99A','#7FD6A0','#66D6CE','#2DB5F5','#C79AFF','#F564E3','#FF4FB0'];
const c3BandUpper=[1.9,1.2,1,1.1,1.2,1,.85];
const c3BandLower=[-1.05,-.75,-.58,-.6,-.95,-1.45,-1.8];
const c3BandUpper2=[1.2,.9,.9,.9,.8,.45,.2];
const c3BandLower2=[-.7,-.55,-.4,-.4,-.6,-.8,-1.2];

const c4Salmon=[[1.04,-1.26],[5,-1],[2.04,1.47],[323,.82],[10,-1.04],[6.8,-1.24],[930,-1.88],[2,-1.81],[3.65,-1.8],[1.5,1.3],[545,1.46],[150,-2.06],[30,.7],[109,-.84],[465,-1.8]];
const c4Orange=[[1.53,1.99],[4.15,1.69],[7.3,-.55],[8.6,-.61],[465,1.23],[810,1.66],[90,.52],[265,.57],[3,-2.36],[1.82,-2.42],[450,-1.61],[157,-1.63],[1.19,1.28],[26,-1],[28,-1.27],[31,1.23]];
const c4Olive=[[1.7,1.26],[1.76,1.84],[8.6,1.99],[10.1,2],[2.45,1.33],[7,1.82],[465,2.15],[3.5,-2.22],[27,-1],[142,-1.82],[4.9,1.26],[1100,1.39]];
const c4Green=[[450,-2.37],[9.8,-1.1],[530,-1.96],[2.9,-1.8],[.97,-1.07],[4.9,1.3],[530,1.53],[10.1,1.82]];
const c4Spring=[[1.95,-1.14],[2.4,1.16],[30,.9],[300,-1.49],[5,.9],[95,-1.2],[112,-1.3],[142,-1.43],[4.3,1.24]];
const c4Teal=[[.97,-1.82],[26,-1.83],[29,-1.47],[10.1,-1.37],[2.3,-1.28],[1.88,-1.52],[1020,1.07],[870,1.07],[132,-2.37],[30,-.84],[6.6,-.94]];
const c4Azure=[[.96,-.95],[5,1.62],[100,.77],[10.3,-.81],[480,1.97],[550,2.04],[1.95,-2.18],[3.2,-1.8],[450,-2.06],[465,-2.19],[1130,-1.4],[28,1.53],[870,1.39],[31,1.1],[313,.67],[2.05,1.07],[28,-1.17],[6.6,-.91]];
const c4Purple=[[1.42,1.81],[4.3,1.56],[530,1.64],[1000,1.82],[8.2,-1.2],[285,.82],[1.95,-2.39],[3.3,-2.21],[555,-1.53],[1100,-1.06],[27,1.46],[157,-2.32],[.97,.91],[29,1.03]];
const c4Violet=[[1.55,1.62],[32,1.56],[450,1.76],[3.2,-1.96],[1.82,-1.76],[555,-2.08],[7.3,-.74],[8,-.87],[930,1.33]];
const c4Pink=[[1,1.28],[7,1.69],[8.6,1.56],[7,1.43],[9,1.36],[7.6,1.16],[930,-1.3],[147,-2.14],[95,-.81],[2.05,-.91],[30,-1.1],[285,-1.14],[7.2,1.55],[8,1.4],[8.8,1.7],[9.8,1.45],[9.5,1.25],[7.2,1.25],[8.2,1.1],[7.6,-.75],[8.5,-.95],[8,-.85]];
const c4Points=[c4Salmon,c4Orange,c4Olive,c4Green,c4Spring,c4Teal,c4Azure,c4Purple,c4Violet,c4Pink];
const c4Fits=[
[[1.05,.31],[7,1.28],[13.6,1.16],[32,.31],[98,-.55],[233,-.78],[450,-.41],[1000,.44]],
[[1.05,-.18],[2.62,.57],[7,.9],[13.6,.87],[32,.31],[99,-.61],[190,-.84],[1000,-1.2]],
[[1.05,-1.17],[5.07,.44],[9.2,.7],[16.6,.11],[32,-.94],[51,-1.4],[99,-1.66],[157,-1.57],[301,-.88],[510,-.09],[715,.77],[1000,1]],
[[1.05,.19],[5.07,.5],[11.2,.59],[32,.5],[99,.24],[265,-.05],[1000,-.36]],
[[1.05,.31],[9.8,.14],[99,-.02],[1000,-.22]],
[[1.05,-.02],[5.07,.24],[19,.31],[99,.05],[367,-.28],[1000,-.48]],
[[1.05,.57],[1.55,-.15],[2.45,-.53],[4.16,-.15],[7.05,.77],[11.2,1.2],[19,.84],[32,.05],[71,-.81],[128,-1],[216,-.61],[367,-.02],[510,.11],[1000,-.12]],
[[1.05,.7],[1.55,-.02],[2.45,-.35],[4.16,-.02],[7.05,.64],[11.2,.84],[19,.57],[32,-.15],[71,-1],[157,-1.3],[265,-1.07],[450,-.55],[1000,-.38]]];
const c4FitColors=['#C5C97A','#2FC890','#14C8C8','#00B0F6','#F5B56A','#FFC4BE','#D97CFF','#FF4FC0'];
const c4BandUpperPts=[[1,2.4],[2.6,1.5],[8.6,1.5],[32,1.1],[98,.85],[265,.85],[1000,1]];
const c4BandLowerPts=[[1,-2.6],[2,-1.1],[4,-.7],[8.6,-.4],[32,-1.2],[98,-2.4],[150,-2.8],[265,-2.3],[1000,-1.6]];

const c5Points=[[1.05,1.32],[2.03,1.05],[4.8,.88],[7.4,.97],[8.7,1.37],[9.3,1.24],[8.9,1.11],[30.8,1.13],[545,1.48],[985,1.54],[7.1,-.97],[9.85,-.97],[27.9,-.93],[29.8,-.79],[98,-.91],[1.4,-1.21],[1.63,-1.34],[3.1,-1.42],[8.1,-1.23],[7.9,-1.34],[9.4,-1.36],[7.9,-1.55],[8.6,-1.53],[150,-1.52],[272,-1.36],[530,-1.42],[925,-1.19],[1040,-1.2]];
const c5Fit=[[1.05,-.33],[1000,-.55]];
const c5BandDoses=[1.05,3.16,10.2,30.8,99,320,1000];
const c5BandUpper=[.45,.24,.09,0,.09,.24,.4];
const c5BandLower=[-1.1,-.92,-.85,-.87,-1.04,-1.26,-1.48];

/* ---------- helpers ---------- */
const FONT='"Liberation Sans",Arial,sans-serif';
Chart.defaults.font.family=FONT;
Chart.defaults.animation=false;
Chart.defaults.devicePixelRatio=1;
Chart.defaults.responsive=false;
Chart.defaults.plugins.legend.display=false;
Chart.defaults.plugins.tooltip.enabled=false;

function label(s,x,y,size,o={}){
  const d=document.createElement('div');d.className='t';d.textContent=s;
  d.style.fontSize=size+'px';d.style.top=y+'px';d.style.color=o.color||'#000';
  if(o.bold)d.style.fontWeight='bold';
  if(o.center){d.style.left=x+'px';d.style.transform='translate(-50%,-50%)';}else d.style.left=x+'px';
  d.style.zIndex=5;document.body.appendChild(d);return d;
}
function mkCanvas(l,t,w,h){
  const c=document.createElement('canvas');c.width=w;c.height=h;
  c.style.left=l+'px';c.style.top=t+'px';c.style.width=w+'px';c.style.height=h+'px';
  document.body.appendChild(c);return c.getContext('2d');
}
const hiddenLinear=(min,max,reverse)=>({type:'linear',display:false,min,max,reverse:!!reverse});
const noPad={padding:0};
const zeroPad=s=>{s.paddingTop=0;s.paddingBottom=0;s.paddingLeft=0;s.paddingRight=0;};

/* ---------- Panel A ---------- */
function pieImage(r,pattern){
  const c=document.createElement('canvas');c.width=c.height=2*r+8;const x=c.getContext('2d'),m=r+4;
  x.fillStyle='rgba(185,185,185,.55)';x.beginPath();x.arc(m,m,r+3,0,7);x.fill();
  const n=pattern.length;
  for(let i=0;i<n;i++){x.fillStyle=pattern[i]=='R'?'#D8202E':'#0F6FBC';x.beginPath();x.moveTo(m,m);x.arc(m,m,r,i/n*6.2832-1.5,(i+1)/n*6.2832-1.5);x.closePath();x.fill();
    x.strokeStyle='rgba(40,20,60,.55)';x.lineWidth=1;x.beginPath();x.moveTo(m,m);x.lineTo(m+r*Math.cos(i/n*6.2832-1.5),m+r*Math.sin(i/n*6.2832-1.5));x.stroke();}
  return c;
}
const piePatterns=['RRBBRBBRRBBB','BBBRRBRBBBRR','RBRRBRRBBRBR'];
const edgePts=list=>list.flatMap(([a,b])=>[{x:networkNodes[a][1],y:networkNodes[a][2]},{x:networkNodes[b][1],y:networkNodes[b][2]},{x:null,y:null}]);
new Chart(mkCanvas(0,0,1900,820),{type:'scatter',
 data:{datasets:[
  {data:edgePts(thinEdges),showLine:true,borderColor:'#6FDCC4',borderWidth:2,pointRadius:0,order:3},
  {data:edgePts(thickEdges),showLine:true,borderColor:'#55CDB8',borderWidth:4,pointRadius:0,order:2},
  {data:networkNodes.map(n=>({x:n[1],y:n[2]})),pointRadius:10,order:1,
   pointStyle:networkNodes.map((n,i)=>pieImage(smallNodes.includes(i)?12:largeNodes.includes(i)?22:18,piePatterns[i%3]))}
 ]},
 options:{layout:noPad,clip:false,scales:{x:hiddenLinear(0,1568),y:hiddenLinear(0,1568,true)}},
 plugins:[{id:'hulls',
  beforeDatasetsDraw(ch){const {ctx,scales:{x,y}}=ch;
   hullCenters.forEach((c,i)=>{const px=x.getPixelForValue(c[0]),py=y.getPixelForValue(c[1]);
    const rx=x.getPixelForValue(c[0]+hullRadii[i][0])-px,ry=y.getPixelForValue(c[1]+hullRadii[i][1])-py;
    ctx.save();ctx.beginPath();ctx.ellipse(px,py,rx,ry,0,0,6.2832);ctx.fillStyle='#FFFFF1';ctx.fill();ctx.strokeStyle='#3a3a3a';ctx.lineWidth=2.5;ctx.stroke();ctx.restore();});},
  afterDatasetsDraw(ch){const {ctx,scales:{x,y}}=ch;ctx.save();ctx.font='12.5px '+FONT;ctx.fillStyle='#333';ctx.textAlign='center';ctx.textBaseline='middle';
   networkNodes.forEach(n=>ctx.fillText(n[0],x.getPixelForValue(n[1]),y.getPixelForValue(n[2])));ctx.restore();}
 }]});
hullTitles.forEach((s,i)=>label(s,hullTitleX[i]/.8253,hullTitleY[i]/1.912,hullTitleSize[i],{center:true}));

/* ---------- Panel B ---------- */
const allRows=[...heatC4,...heatC3,...heatC2,...heatC5,...heatC1];
const rowCluster=[],rowTop=[];
{let pos=0;clusterSizes.forEach((n,c)=>{for(let i=0;i<n;i++){rowCluster.push(c);rowTop.push(pos);pos+=1;}pos+=clusterGaps[c];});}
const heatMaxY=rowTop[rowTop.length-1]+1;
function heatColor(v){
  const lerp=(a,b,t)=>Math.round(a+(b-a)*t);
  if(v>=0){const t=Math.min(1,v/colorbarRange[1]);return `rgb(255,${lerp(255,0,t)},${lerp(255,0,t)})`;}
  const t=Math.min(1,v/colorbarRange[0]);return `rgb(${lerp(255,0,t)},${lerp(255,0,t)},${lerp(255,128,t)})`;
}
const colLabels=sampleDose.map((d,i)=>'S'+(i+1));
const barOpts=(ymax)=>({layout:noPad,datasets:{bar:{grouped:false,barPercentage:1,categoryPercentage:1}},
  scales:{x:{type:'category',display:false,offset:true},y:hiddenLinear(0,ymax,true)}});
new Chart(mkCanvas(369,1190,952,1197),{type:'bar',
 data:{labels:colLabels,datasets:allRows.map((r,i)=>({data:r.map(()=>[rowTop[i],rowTop[i]+1]),backgroundColor:r.map(heatColor),borderColor:'#909090',borderWidth:1.5,borderSkipped:false}))},
 options:barOpts(heatMaxY)});
const stripSpans=[[0,33],[38,70],[76,107],[114,146]];
const lookup=(names,cols)=>v=>cols[names.indexOf(v)];
const strips=[sampleRadiation.map(lookup(radiationNames,radiationColors)),sampleTissue.map(lookup(tissueNames,tissueColors)),sampleSpecies.map(lookup(speciesNames,speciesColors)),sampleDose.map(lookup(doseNames,doseColors))];
new Chart(mkCanvas(369,1036,952,146),{type:'bar',
 data:{labels:colLabels,datasets:strips.map((s,i)=>({data:s.map(()=>stripSpans[i]),backgroundColor:s,borderColor:'#9a9a9a',borderWidth:1.6,borderSkipped:false}))},
 options:barOpts(146)});
["Type of Radiation","Tissue","Species","Dose"].forEach((s,i)=>label(s,1330,[1053,1090,1128,1166][i],31.5,{bold:true}));

function dendroSegments(merges,leafPos,leafColor,barColor){
  const pos=[],hgt=[],col=[];const out={};
  const get=k=>k>=0?[leafPos(k),0,leafColor(k)]:[pos[-k-1],hgt[-k-1],col[-k-1]];
  const add=(c,...p)=>{(out[c]=out[c]||[]).push(...p,null);};
  merges.forEach(([a,b,h],i)=>{const A=get(a),B=get(b),mid=(A[0]+B[0])/2;
    [A,B].forEach(C=>{add(C[2],[C[0],C[1]],[C[0],h]);add(barColor(C[2]),[C[0],h],[mid,h]);});
    pos[i]=mid;hgt[i]=h;col[i]=A[2]==B[2]?A[2]:'#222222';});
  return out;
}
const colSegs=dendroSegments(colMerges,i=>i+.5,()=>'#333333',c=>c);
new Chart(mkCanvas(369,860,952,178),{type:'scatter',
 data:{datasets:Object.entries(colSegs).map(([c,s])=>({data:s.map(p=>p?{x:p[0],y:p[1]}:{x:null,y:null}),showLine:true,borderColor:c,borderWidth:2.5,pointRadius:0,clip:false}))},
 options:{layout:noPad,scales:{x:hiddenLinear(0,30),y:hiddenLinear(-2,176)}}});
const rowSegs=dendroSegments(rowMerges,i=>rowTop[i]+.5,i=>clusterColors[rowCluster[i]],c=>c=='#FF00FF'?'#222222':c);
new Chart(mkCanvas(179,1190,190,1197),{type:'scatter',
 data:{datasets:Object.entries(rowSegs).map(([c,s])=>({data:s.map(p=>p?{x:p[1],y:p[0]}:{x:null,y:null}),showLine:true,borderColor:c,borderWidth:3.4,pointRadius:0,clip:false}))},
 options:{layout:noPad,scales:{x:hiddenLinear(0,190,true),y:hiddenLinear(0,heatMaxY,true)}}});

function legendChart(left,top,total,swatch,names,colors){
  new Chart(mkCanvas(left,top,total,Math.round(names.length*47.6)),{type:'bar',
   data:{labels:names,datasets:[{data:names.map(()=>1),backgroundColor:colors}]},
   options:{indexAxis:'y',layout:noPad,datasets:{bar:{barPercentage:1.02,categoryPercentage:1}},
    scales:{x:{type:'linear',display:false,min:0,max:1},
     y:{type:'category',position:'right',grid:{display:false,drawTicks:false},border:{display:false},
        afterFit(s){s.width=total-swatch;zeroPad(s);},
        ticks:{autoSkip:false,color:'#333',font:{size:33.3},padding:11}}}}});
}
legendChart(1478,1201,300,48,speciesNames,speciesColors);
legendChart(1688,1191,220,48,radiationNames,radiationColors);
legendChart(1478,1416,225,48,doseNames,doseColors);
legendChart(1703.5,1478,340,48.5,tissueNames,tissueColors);
label("Species",1478,1179,33,{bold:true});label("Type of Radiation",1688,1166,33.4,{bold:true});
label("Dose",1478,1393,33,{bold:true});label("Tissue",1706,1453,33,{bold:true});

new Chart(mkCanvas(1337,1191,90,471),{type:'bar',
 data:{labels:['NES'],datasets:[{data:[colorbarRange],borderWidth:0,barPercentage:1,categoryPercentage:1,
  backgroundColor(ctx){const ch=ctx.chart,y=ch.scales.y;if(!y||!ch.chartArea)return '#888';
    const g=ch.ctx.createLinearGradient(0,y.bottom,0,y.top),z=(0-colorbarRange[0])/(colorbarRange[1]-colorbarRange[0]);
    g.addColorStop(0,'#000080');g.addColorStop(z,'#ffffff');g.addColorStop(1,'#EE1111');return g;}}]},
 options:{layout:noPad,scales:{x:{display:false,offset:true},
  y:{type:'linear',position:'right',min:colorbarRange[0],max:colorbarRange[1],grid:{display:false,drawTicks:false},border:{display:false},
     afterFit(s){s.width=59;zeroPad(s);},
     afterBuildTicks(s){s.ticks=colorbarTicks.map(v=>({value:v}));},
     ticks:{color:'#333',font:{size:33},padding:12,callback:v=>String(v).replace('-','−')}}}}});

label("Annotated C6 Oncogenic Signatures: Flight vs Ground",315,841,40.7,{bold:true});
label("Clusters",40,1134,59,{bold:true});
[["4",1277,'#000'],["3",1448,'#FF7F0E'],["2",1807,'#00AA22'],["5",2093,'#FF00FF'],["1",2237,'#DD2020']].forEach(a=>label(a[0],158,a[1],60,{bold:true,color:a[2],center:true}));
label("A)",66,94,62,{bold:true});label("B)",68,848,62,{bold:true});label("C)",2041,95,62,{bold:true});
label("Generalized additive model fits",2368,88,63.6,{bold:true});

/* ---------- Panel C ---------- */
const toXY=a=>a.map(p=>({x:p[0],y:p[1]}));
const zip=(xs,ys)=>xs.map((x,i)=>({x,y:ys[i]}));
const logTicksPlugin={id:'frame',afterDatasetsDraw(ch){
  const {ctx,chartArea:a,scales:{x}}=ch;ctx.save();ctx.strokeStyle='#333';
  logTickValues.forEach(v=>{const p=x.getPixelForValue(v);if(p<a.left||p>a.right)return;
    const e=Math.log10(v),len=Number.isInteger(e)?16:Math.abs(v/Math.pow(10,Math.floor(e))-5)<.01?10:6;
    ctx.lineWidth=Number.isInteger(e)?3:2;
    ctx.beginPath();ctx.moveTo(p,a.bottom);ctx.lineTo(p,a.bottom-len);ctx.moveTo(p,a.top);ctx.lineTo(p,a.top+len);ctx.stroke();});
  ctx.strokeStyle='#444';ctx.lineWidth=3;ctx.strokeRect(a.left,a.top,a.right-a.left,a.bottom-a.top);ctx.restore();}};
function gamPanel(f,xr,yr,yMajor,pointSeries,pointColors,bands,fits,fitColors,radius){
  const L=f.l-153,T=f.t-8,W=f.r-L+40,H=f.b-T+136;
  const minorX=[3.162,31.62,316.2];const isMinorX=v=>minorX.includes(v);
  const yMinor=[];for(let i=0;i<yMajor.length-1;i++)yMinor.push((yMajor[i]+yMajor[i+1])/2);
  yMinor.push(yMajor[0]-.5*(yMajor[1]-yMajor[0]),yMajor[yMajor.length-1]+.5*(yMajor[1]-yMajor[0]));
  const ds=[];
  pointSeries.forEach((s,i)=>ds.push({data:toXY(s),backgroundColor:pointColors[i%pointColors.length],borderWidth:0,pointRadius:radius,order:100-i}));
  bands.forEach((b,i)=>{
    ds.push({data:b[0],showLine:true,tension:.35,borderWidth:0,pointRadius:0,fill:'+1',backgroundColor:'rgba(255,225,222,.55)',order:50-i});
    ds.push({data:b[1],showLine:true,tension:.35,borderWidth:0,pointRadius:0,order:50-i});
  });
  fits.forEach((s,i)=>{const pts=Array.isArray(s[0])?toXY(s):zip(lineDoses,s);
    ds.push({data:pts,showLine:true,tension:.4,borderColor:fitColors[i%fitColors.length],borderWidth:3.6,pointRadius:0,borderCapStyle:'round',order:30-i*.01});});
  new Chart(mkCanvas(L,T,W,H),{type:'scatter',data:{datasets:ds},
   options:{layout:{padding:{top:8,right:40}},plugins:{filler:{drawTime:'beforeDatasetDraw'}},
    scales:{
     x:{type:'logarithmic',min:xr[0],max:xr[1],border:{display:false},
        afterFit(s){s.height=136;zeroPad(s);},
        afterBuildTicks(s){s.ticks=[1,3.162,10,31.62,100,316.2,1000].map(v=>({value:v}));},
        grid:{color:'#EDEDED',lineWidth:c=>c.tick&&isMinorX(c.tick.value)?2.5:4.5,tickLength:15,tickColor:'#333',tickWidth:c=>c.tick&&isMinorX(c.tick.value)?0:3},
        title:{display:true,text:'Dose (mGy)',color:'#000',font:{size:55.5},padding:0},
        ticks:{autoSkip:false,maxRotation:0,color:'#4d4d4d',font:{size:41},padding:4,callback:v=>minorX.includes(v)?'':String(v)}},
     y:{type:'linear',min:yr[0],max:yr[1],border:{display:false},
        afterFit(s){s.width=153;zeroPad(s);},
        afterBuildTicks(s){s.ticks=[...yMajor,...yMinor].filter(v=>v>yr[0]&&v<yr[1]).sort((a,b)=>a-b).map(v=>({value:v}));},
        grid:{color:'#EDEDED',lineWidth:c=>c.tick&&yMinor.includes(c.tick.value)?2.5:4.5,tickLength:15,tickColor:'#333',tickWidth:c=>c.tick&&yMinor.includes(c.tick.value)?0:3},
        title:{display:true,text:'NES',color:'#000',font:{size:54},padding:0},
        ticks:{autoSkip:false,color:'#4d4d4d',font:{size:41},padding:10,callback:v=>yMinor.includes(v)?'':String(v).replace('-','−')}}
    }},
   plugins:[logTicksPlugin]});
}
const fade=(hex,a)=>hex+Math.round(a*255).toString(16).padStart(2,'0');
const fade15=hue15.map((c,i)=>i<8?fade(c,.6):c);
gamPanel({l:2182,t:266,r:2775,b:712},[.67,1567],[-3.42,2.876],[-3,-2,-1,0,1,2],c1Points,hue15,[[zip(lineDoses,c1BandUpper),zip(lineDoses,c1BandLower)]],c1Fits,fade15,11);
gamPanel({l:2971,t:327,r:3565,b:712},[.658,1560],[-3.45,3.23],[-2,0,2],c2Points,hue15,[[zip(lineDoses,c2BandUpper),zip(lineDoses,c2BandLower)]],c2Fits,fade15,11);
gamPanel({l:2182,t:1040,r:2775,b:1486},[.67,1580],[-2.59,2.215],[-2,-1,0,1,2],c3Points,hue12,[[zip(lineDoses,c3BandUpper),zip(lineDoses,c3BandLower)],[zip(lineDoses,c3BandUpper2),zip(lineDoses,c3BandLower2)]],c3Fits,c3FitColors,11);
gamPanel({l:2971,t:1040,r:3565,b:1486},[.686,1563],[-3.19,2.87],[-3,-2,-1,0,1,2],c4Points,hue10,[[toXY(c4BandUpperPts),toXY(c4BandLowerPts)]],c4Fits,c4FitColors,11);
gamPanel({l:2182,t:1813,r:2775,b:2258},[.746,1432],[-1.69,1.67],[-1,0,1],[c5Points],['#F8766D'],[[zip(c5BandDoses,c5BandUpper),zip(c5BandDoses,c5BandLower)]],[c5Fit],['#F8766D'],10.5);

[[["Cluster 1",147],["KRAS and LEF1",206]],[["Cluster 3",921],["PDGF and TGFB",979]],[["Cluster 5",1694],["ESC",1752]]].forEach(g=>g.forEach(l=>label(l[0],2181,l[1],54.6)));
[[["Cluster 2",147],["p53, mTOR, KRAS,",206],["and CRX",267]],[["Cluster 4",921],["TBK1, VEGFa, & ERBB2",979]]].forEach(g=>g.forEach(l=>label(l[0],2970,l[1],54.6)));
</script>
</body></html>
